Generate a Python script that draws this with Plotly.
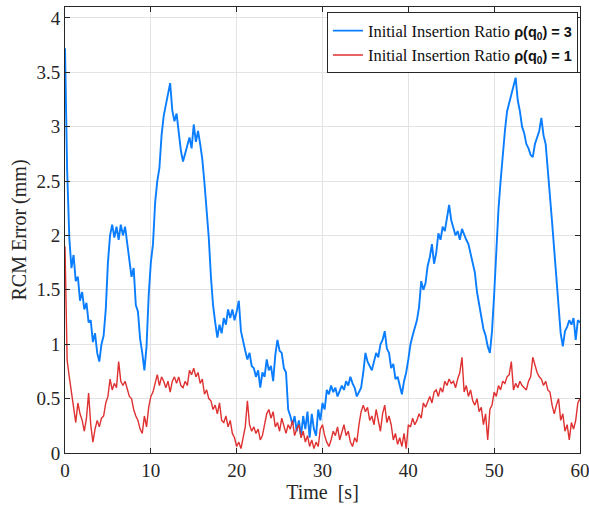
import plotly.graph_objects as go

# sample times, 0.25 s apart
time_s = [i * 0.25 for i in range(241)]

# RCM error, rho(q0) = 3
err_rho3 = [
    3.72, 2.60, 1.98, 1.70, 1.82, 1.58, 1.62, 1.40, 1.48, 1.32, 1.38, 1.20, 1.22, 1.02, 1.10, 0.92, 0.84, 1.00, 1.08, 1.32,
    1.75, 2.00, 2.10, 1.98, 2.08, 1.96, 2.10, 2.00, 2.08, 1.92, 1.80, 1.62, 1.70, 1.36, 1.30, 1.05, 0.92, 0.76, 0.98, 1.45,
    1.75, 1.92, 2.30, 2.50, 2.62, 2.92, 3.10, 3.20, 3.30, 3.40, 3.15, 3.05, 3.12, 2.95, 2.78, 2.68, 2.76, 2.82, 2.90, 2.80,
    3.02, 2.86, 2.96, 2.84, 2.70, 2.48, 2.26, 1.98, 1.62, 1.36, 1.20, 1.06, 1.18, 1.10, 1.24, 1.18, 1.32, 1.24, 1.32, 1.22,
    1.30, 1.40, 1.12, 1.02, 0.94, 0.86, 0.92, 0.80, 0.78, 0.70, 0.76, 0.60, 0.74, 0.70, 0.86, 0.76, 0.80, 0.66, 0.90, 1.04,
    0.94, 0.92, 0.78, 0.74, 0.40, 0.34, 0.26, 0.34, 0.20, 0.30, 0.16, 0.34, 0.22, 0.38, 0.14, 0.36, 0.22, 0.16, 0.40, 0.30,
    0.46, 0.40, 0.58, 0.54, 0.62, 0.56, 0.60, 0.52, 0.58, 0.62, 0.58, 0.66, 0.62, 0.70, 0.64, 0.60, 0.52, 0.56, 0.60, 0.74,
    0.92, 0.84, 0.80, 0.76, 0.84, 0.92, 0.88, 1.00, 1.04, 1.12, 0.96, 0.92, 0.78, 0.82, 0.68, 0.70, 0.62, 0.54, 0.66, 0.74,
    0.86, 1.00, 1.08, 1.14, 1.22, 1.34, 1.58, 1.50, 1.56, 1.72, 1.80, 1.92, 1.74, 1.84, 2.02, 1.96, 2.08, 2.04, 2.16, 2.28,
    2.14, 2.06, 2.00, 2.04, 1.96, 2.06, 2.00, 1.96, 1.92, 1.84, 1.74, 1.66, 1.48, 1.36, 1.24, 1.14, 1.08, 0.98, 0.92, 1.12,
    1.46, 1.90, 2.24, 2.50, 2.76, 2.96, 3.14, 3.22, 3.30, 3.36, 3.45, 3.24, 3.14, 3.00, 2.94, 2.84, 2.80, 2.74, 2.72, 2.84,
    2.90, 2.96, 3.08, 2.92, 2.84, 2.56, 2.36, 2.12, 1.86, 1.60, 1.32, 1.10, 0.98, 1.12, 1.16, 1.22, 1.18, 1.24, 1.04, 1.22,
    1.20,
]

# RCM error, rho(q0) = 1
err_rho1 = [
    1.90, 0.85, 0.70, 0.56, 0.40, 0.28, 0.46, 0.36, 0.30, 0.20, 0.32, 0.55, 0.26, 0.10, 0.22, 0.30, 0.24, 0.32, 0.34, 0.46,
    0.52, 0.68, 0.58, 0.64, 0.60, 0.84, 0.66, 0.62, 0.66, 0.58, 0.52, 0.50, 0.40, 0.34, 0.30, 0.22, 0.18, 0.34, 0.24, 0.42,
    0.52, 0.56, 0.64, 0.72, 0.62, 0.70, 0.66, 0.60, 0.66, 0.56, 0.66, 0.70, 0.64, 0.70, 0.62, 0.60, 0.66, 0.62, 0.76, 0.72,
    0.78, 0.70, 0.74, 0.64, 0.68, 0.54, 0.58, 0.50, 0.48, 0.40, 0.44, 0.36, 0.46, 0.30, 0.28, 0.34, 0.24, 0.30, 0.18, 0.14,
    0.06, 0.10, 0.04, 0.14, 0.24, 0.48, 0.26, 0.20, 0.24, 0.18, 0.22, 0.12, 0.16, 0.26, 0.36, 0.40, 0.32, 0.38, 0.24, 0.28,
    0.20, 0.32, 0.24, 0.18, 0.26, 0.22, 0.30, 0.16, 0.22, 0.26, 0.14, 0.20, 0.10, 0.16, 0.06, 0.12, 0.04, 0.10, 0.06, 0.22,
    0.26, 0.16, 0.10, 0.06, 0.12, 0.20, 0.16, 0.24, 0.12, 0.20, 0.26, 0.16, 0.20, 0.10, 0.06, 0.14, 0.10, 0.26, 0.38, 0.44,
    0.38, 0.42, 0.30, 0.34, 0.26, 0.40, 0.28, 0.20, 0.36, 0.44, 0.28, 0.34, 0.26, 0.12, 0.18, 0.08, 0.14, 0.06, 0.18, 0.04,
    0.26, 0.24, 0.32, 0.26, 0.30, 0.36, 0.32, 0.46, 0.42, 0.48, 0.52, 0.46, 0.56, 0.58, 0.52, 0.60, 0.56, 0.66, 0.62, 0.68,
    0.64, 0.66, 0.60, 0.68, 0.74, 0.88, 0.56, 0.62, 0.52, 0.58, 0.48, 0.44, 0.50, 0.38, 0.42, 0.26, 0.36, 0.12, 0.40, 0.44,
    0.56, 0.52, 0.62, 0.58, 0.66, 0.64, 0.70, 0.72, 0.84, 0.58, 0.64, 0.60, 0.66, 0.62, 0.60, 0.58, 0.66, 0.70, 0.88, 0.80,
    0.74, 0.70, 0.68, 0.62, 0.66, 0.58, 0.56, 0.44, 0.36, 0.44, 0.50, 0.30, 0.36, 0.20, 0.26, 0.12, 0.28, 0.22, 0.30, 0.46,
    0.50,
]

x_ticks = [0, 10, 20, 30, 40, 50, 60]
y_ticks = [0, 0.5, 1, 1.5, 2, 2.5, 3, 3.5, 4]

bold = '<span style="font-family:Liberation Sans;font-weight:bold;font-size:14.5px">'
name3 = 'Initial Insertion Ratio ' + bold + 'ρ(q<sub>0</sub>) = 3</span>'
name1 = 'Initial Insertion Ratio ' + bold + 'ρ(q<sub>0</sub>) = 1</span>'

fig = go.Figure()
fig.add_trace(go.Scatter(x=time_s, y=err_rho3, mode='lines', name=name3,
                         line=dict(color='#0A7EFF', width=1.9)))
fig.add_trace(go.Scatter(x=time_s, y=err_rho1, mode='lines', name=name1,
                         line=dict(color='#DF3131', width=1.4)))

serif = 'Liberation Serif, Times New Roman, serif'
axis_common = dict(showline=True, linecolor='#262626', linewidth=1, mirror='ticks',
                   ticks='inside', ticklen=5, tickcolor='#262626', automargin=False,
                   ticklabeloverflow='allow',
                   showgrid=True, gridcolor='#E3E3E3', gridwidth=1, zeroline=False,
                   tickfont=dict(family=serif, size=19, color='#262626'))

fig.update_xaxes(range=[0, 60], tickvals=x_ticks,
                 title=dict(text='Time\u00a0 [s]', font=dict(family=serif, size=20, color='#262626'),
                            standoff=4),
                 **axis_common)
fig.update_yaxes(range=[0, 4.1], tickvals=y_ticks, ticktext=[f'{v:g}' for v in y_ticks],
                 title=dict(text='RCM Error (mm)', font=dict(family=serif, size=20, color='#262626'),
                            standoff=4),
                 **axis_common)

fig.update_layout(
    width=589, height=508,
    margin=dict(l=65, r=9, t=7, b=55),
    plot_bgcolor='white', paper_bgcolor='white',
    font=dict(family=serif, color='#262626'),
    showlegend=True,
    legend=dict(x=0.996, y=0.988, xanchor='right', yanchor='top',
                bgcolor='white', bordercolor='#262626', borderwidth=1,
                font=dict(family=serif, size=16.5, color='#111111'),
                itemwidth=30, tracegroupgap=0),
)

# page body has a default margin; drop it so the figure sits at the window corner
fig.write_html("out.html", config={'displayModeBar': False},
               post_script="document.body.style.margin='0';document.body.style.padding='0';")
